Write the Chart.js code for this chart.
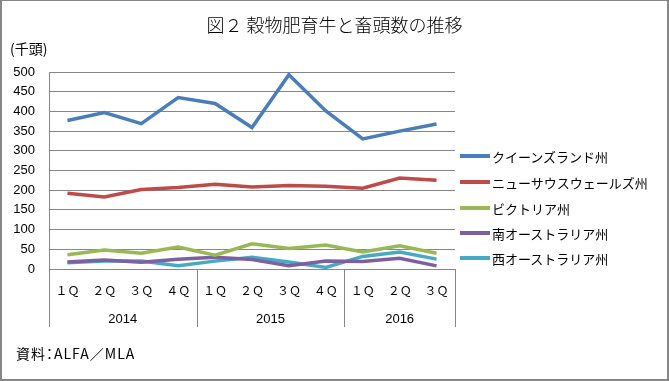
<!DOCTYPE html>
<html>
<head>
<meta charset="utf-8">
<script src="https://cdn.jsdelivr.net/npm/chart.js@4/dist/chart.umd.min.js"></script>
<style>
  html, body { margin: 0; padding: 0; background: #fff; }
  #wrap { position: relative; width: 669px; height: 381px; overflow: hidden; background: #fff; }
  #c { position: absolute; left: 0; top: 0; }
  .frame { position: absolute; left: 0; top: 0; width: 669px; height: 381px; box-sizing: border-box;
           border: 2px solid #878787; border-top-width: 1px; pointer-events: none; }
  .txt { position: absolute; font-family: "Noto Sans CJK JP", sans-serif; color: #000; white-space: nowrap; }
  #title { left: 0; width: 669px; text-align: center; top: 12px; font-size: 18px; line-height: 24px; font-weight: 300; }
  #unit { left: 10px; top: 38px; font-size: 14px; line-height: 20px; }
  #src { left: 16px; top: 343px; font-size: 14px; line-height: 20px; letter-spacing: 1px; font-feature-settings: "palt"; }
  .leg { position: absolute; left: 460px; height: 20px; display: flex; align-items: center;
         font-family: "Noto Sans CJK JP", sans-serif; font-size: 13px; color: #000; white-space: nowrap; }
  .leg .ln { display: inline-block; width: 30px; height: 4px; margin-right: 2px; }
</style>
</head>
<body>
<div id="wrap">
  <canvas id="c" width="669" height="381"></canvas>
  <div class="txt" id="title">図２ 穀物肥育牛と畜頭数の推移</div>
  <div class="txt" id="unit">(千頭)</div>
  <div class="txt" id="src">資料：ALFA／MLA</div>
  <div id="legend"></div>
  <div class="frame"></div>
</div>
<script>
// ---- data ----
const quarters = ["１Ｑ","２Ｑ","３Ｑ","４Ｑ","１Ｑ","２Ｑ","３Ｑ","４Ｑ","１Ｑ","２Ｑ","３Ｑ"];
const years = ["2014","2015","2016"];
const yearGroupSizes = [4, 4, 3];
const seriesNames = ["クイーンズランド州","ニューサウスウェールズ州","ビクトリア州","南オーストラリア州","西オーストラリア州"];
const queensland      = [377, 397, 369, 435, 420, 359, 493, 401, 330, 350, 368];
const newSouthWales   = [192, 183, 202, 207, 215, 208, 212, 210, 205, 231, 225];
const victoria        = [36, 48, 40, 56, 35, 64, 52, 61, 43, 59, 40];
const southAustralia  = [18, 23, 17, 25, 30, 24, 8, 20, 19, 27, 8];
const westernAustralia= [16, 20, 20, 8, 20, 30, 18, 4, 32, 43, 25];
const yMin = 0, yMax = 500, yStep = 50;

const colors = ["#4A7EBB","#BE4B48","#98B954","#7D60A0","#46AAC5"];
const seriesValues = [queensland, newSouthWales, victoria, southAustralia, westernAustralia];
const gridColor = "#878787";

// ---- legend (HTML) ----
const legendTops = [146, 172, 198, 223, 248];
const legendEl = document.getElementById("legend");
seriesNames.forEach((name, i) => {
  const row = document.createElement("div");
  row.className = "leg";
  row.style.top = legendTops[i] + "px";
  row.innerHTML = '<span class="ln" style="background:' + colors[i] + '"></span><span>' + name + '</span>';
  legendEl.appendChild(row);
});

// ---- plugin: year group brackets and labels ----
const groupPlugin = {
  id: "groupPlugin",
  afterDraw(chart) {
    const ctx = chart.ctx;
    const xs = chart.scales.x;
    const area = chart.chartArea;
    const bottom = area.bottom + 58;
    const bounds = [area.left];
    let idx = 0;
    yearGroupSizes.forEach((n, g) => {
      idx += n;
      if (g < yearGroupSizes.length - 1) {
        bounds.push((xs.getPixelForTick(idx - 1) + xs.getPixelForTick(idx)) / 2);
      }
    });
    bounds.push(area.right);
    ctx.save();
    ctx.strokeStyle = gridColor;
    ctx.lineWidth = 1;
    bounds.forEach(b => {
      const x = Math.round(b) + 0.5;
      ctx.beginPath();
      ctx.moveTo(x, area.bottom);
      ctx.lineTo(x, bottom);
      ctx.stroke();
    });
    ctx.fillStyle = "#000";
    ctx.font = '13px "Liberation Sans", Arial, sans-serif';
    ctx.textAlign = "center";
    ctx.textBaseline = "middle";
    let start = 0;
    yearGroupSizes.forEach((n, g) => {
      const x0 = xs.getPixelForTick(start);
      const x1 = xs.getPixelForTick(start + n - 1);
      ctx.fillText(years[g], (x0 + x1) / 2, area.bottom + 50);
      start += n;
    });
    ctx.restore();
  }
};

new Chart(document.getElementById("c"), {
  type: "line",
  data: {
    labels: quarters,
    datasets: seriesNames.map((name, i) => ({
      label: name,
      data: seriesValues[i],
      borderColor: colors[i],
      backgroundColor: colors[i],
      borderWidth: 3.5,
      pointRadius: 0,
      pointHoverRadius: 0,
      tension: 0,
      fill: false
    }))
  },
  options: {
    responsive: false,
    animation: false,
    devicePixelRatio: 1,
    layout: { padding: { top: 72, right: 214, left: 0, bottom: 0 } },
    plugins: {
      legend: { display: false },
      title: { display: false },
      tooltip: { enabled: false }
    },
    scales: {
      x: {
        type: "category",
        offset: true,
        grid: { display: false, drawTicks: false, offset: true },
        border: { display: true, color: gridColor, width: 1 },
        ticks: {
          color: "#000",
          font: { family: '"Noto Sans CJK JP", sans-serif', size: 12 },
          padding: 14,
          maxRotation: 0,
          autoSkip: false
        },
        afterFit(scale) { scale.height = 112; }
      },
      y: {
        min: yMin,
        max: yMax,
        grid: { color: gridColor, lineWidth: 1, drawTicks: false },
        border: { display: true, color: gridColor, width: 1 },
        ticks: {
          stepSize: yStep,
          color: "#000",
          font: { family: '"Liberation Sans", Arial, sans-serif', size: 13 },
          padding: 14
        },
        afterFit(scale) { scale.width = 49; }
      }
    }
  },
  plugins: [groupPlugin]
});
</script>
</body>
</html>
